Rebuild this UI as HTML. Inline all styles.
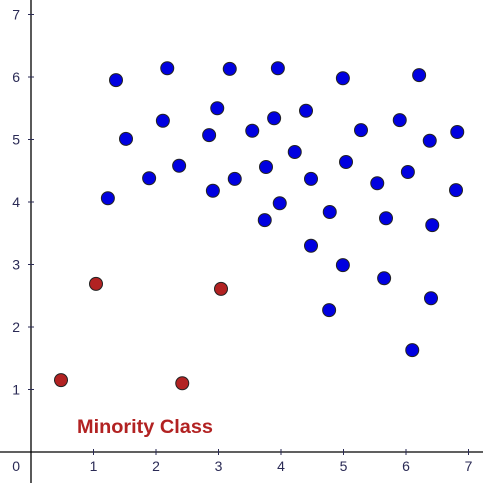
<!DOCTYPE html>
<html><head><meta charset="utf-8"><style>
body{margin:0;background:#fff}
svg{display:block;font-family:"Liberation Sans",sans-serif}
</style></head><body>
<svg id="chart" width="483" height="483" viewBox="0 0 483 483">
<g id="axes"></g>
<g id="pts"></g>
<text x="77" y="433" fill="#b22222" font-weight="bold" font-size="19" textLength="136" lengthAdjust="spacingAndGlyphs">Minority Class</text>
</svg>
<script>
const xTicks=[1,2,3,4,5,6,7];
const yTicks=[1,2,3,4,5,6,7];
const majorityX=[1.36,2.18,3.18,3.95,4.99,6.21,1.52,2.11,2.98,2.85,3.54,3.89,4.40,5.28,5.90,6.82,6.38,1.23,1.89,2.37,2.91,3.26,3.76,4.22,4.48,5.04,5.54,6.03,6.80,3.74,3.98,4.78,5.68,6.42,4.48,4.99,5.65,6.40,4.77,6.10];
const majorityY=[5.95,6.14,6.13,6.14,5.98,6.03,5.01,5.30,5.50,5.07,5.14,5.34,5.46,5.15,5.31,5.12,4.98,4.06,4.38,4.58,4.18,4.37,4.56,4.80,4.37,4.64,4.30,4.48,4.19,3.71,3.98,3.84,3.74,3.63,3.30,2.99,2.78,2.46,2.27,1.63];
const minorityX=[0.48,1.04,2.42,3.04];
const minorityY=[1.15,2.69,1.10,2.61];
const sx=v=>31+v*62.5, sy=v=>452-v*62.5;
const NS="http://www.w3.org/2000/svg";
const axes=document.getElementById('axes'), pts=document.getElementById('pts');
function mk(tag,attrs,parent){const e=document.createElementNS(NS,tag);for(const k in attrs)e.setAttribute(k,attrs[k]);parent.appendChild(e);return e;}
let l=mk('line',{x1:0,y1:452,x2:483,y2:452,stroke:'#000','stroke-width':1.3},axes);


l=mk('line',{x1:31,y1:0,x2:31,y2:483,stroke:'#000','stroke-width':1.3},axes);


let z=mk('text',{x:20,y:471,'text-anchor':'end',fill:'#2a2a55','font-size':14},axes);z.textContent='0';


xTicks.forEach(t=>{
 const tk=mk('line',{x1:sx(t),y1:449,x2:sx(t),y2:455,stroke:'#2a2a55'},axes);
 
 
 const tx=mk('text',{x:sx(t),y:471,'text-anchor':'middle',fill:'#2a2a55','font-size':14},axes);tx.textContent=t;
 
 
});
yTicks.forEach(t=>{
 const tk=mk('line',{x1:28,y1:sy(t),x2:34,y2:sy(t),stroke:'#2a2a55'},axes);
 
 
 const tx=mk('text',{x:20,y:sy(t)+5,'text-anchor':'end',fill:'#2a2a55','font-size':14},axes);tx.textContent=t;
 
 
});
majorityX.forEach((x,i)=>{
 const c=mk('circle',{cx:sx(x),cy:sy(majorityY[i]),r:6.5,fill:'#0000e0',stroke:'#222','stroke-width':1},pts);
 
 
});
minorityX.forEach((x,i)=>{
 const c=mk('circle',{cx:sx(x),cy:sy(minorityY[i]),r:6.5,fill:'#b22222',stroke:'#222','stroke-width':1},pts);
 
 
});
</script>
</body></html>
